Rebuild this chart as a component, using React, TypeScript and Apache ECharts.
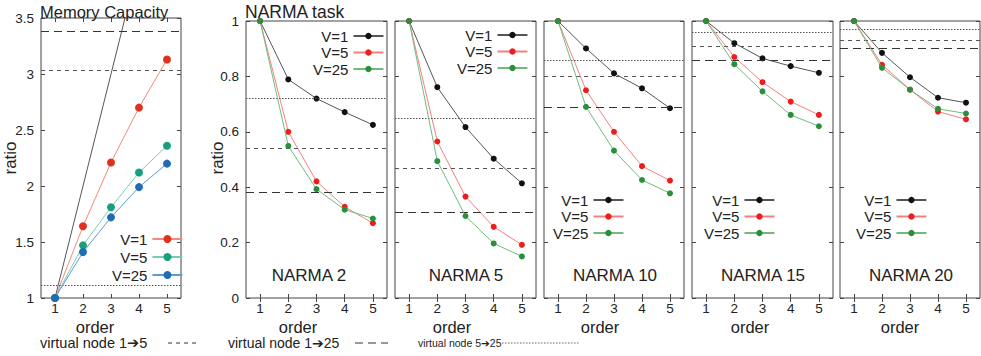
import React, { useEffect, useRef } from 'react';
import * as echarts from 'echarts';

const FONT = '"Liberation Sans", Arial, Helvetica, "DejaVu Sans", sans-serif';

// ---------- data ----------
const orders = ['1', '2', '3', '4', '5'];

// Memory Capacity
const mcV1 = [1, 1.64, 2.21, 2.7, 3.13];
const mcV5 = [1, 1.47, 1.81, 2.12, 2.36];
const mcV25 = [1, 1.41, 1.72, 1.99, 2.2];
const mcIdeal = [1, 2, 3, 4, 5];
const mcRef = { r1to5: 3.03, r1to25: 3.38, r5to25: 1.11 };
const mcTicks = { min: 1, max: 3.5, interval: 0.5 };

// NARMA tasks
const n2V1 = [1, 0.789, 0.72, 0.671, 0.625];
const n2V5 = [1, 0.6, 0.421, 0.329, 0.27];
const n2V25 = [1, 0.549, 0.393, 0.319, 0.287];
const n2Ref = { r1to5: 0.536, r1to25: 0.383, r5to25: 0.717 };

const n5V1 = [1, 0.761, 0.617, 0.503, 0.414];
const n5V5 = [1, 0.565, 0.366, 0.257, 0.192];
const n5V25 = [1, 0.494, 0.296, 0.197, 0.15];
const n5Ref = { r1to5: 0.473, r1to25: 0.309, r5to25: 0.652 };

const n10V1 = [1, 0.901, 0.811, 0.757, 0.685];
const n10V5 = [1, 0.75, 0.6, 0.476, 0.424];
const n10V25 = [1, 0.69, 0.532, 0.426, 0.378];
const n10Ref = { r1to5: 0.795, r1to25: 0.687, r5to25: 0.864 };

const n15V1 = [1, 0.92, 0.865, 0.837, 0.813];
const n15V5 = [1, 0.87, 0.779, 0.709, 0.661];
const n15V25 = [1, 0.844, 0.746, 0.661, 0.62];
const n15Ref = { r1to5: 0.905, r1to25: 0.865, r5to25: 0.956 };

const n20V1 = [1, 0.885, 0.797, 0.723, 0.705];
const n20V5 = [1, 0.842, 0.752, 0.673, 0.645];
const n20V25 = [1, 0.831, 0.752, 0.683, 0.666];
const n20Ref = { r1to5: 0.93, r1to25: 0.901, r5to25: 0.971 };
const narmaTicks = { min: 0, max: 1, interval: 0.2 };

const seriesNames = ['V=1', 'V=5', 'V=25'];
const bottomLegend = ['virtual node 1\u27945', 'virtual node 1\u279425', 'virtual node 5\u279425'];

// ---------- styles ----------
const mcColors = [
  { dot: '#e0301e', line: '#ef8a7c' },
  { dot: '#17a07c', line: '#78ccb2' },
  { dot: '#1f6db3', line: '#5e9bd2' },
];
const nColors = [
  { dot: '#111111', line: '#555555' },
  { dot: '#ee1c1c', line: '#f28080' },
  { dot: '#2a8f3a', line: '#72ba7c' },
];
const DASH_MED = [4, 4];
const DASH_LONG = [8, 5];
const DASH_DOT = [1.5, 1.5];

type Panel = {
  key: string;
  left: number;
  width: number;
  top: number;
  height: number;
  ticks: { min: number; max: number; interval: number };
  showY: boolean;
  values: number[][];
  ref: { r1to5: number; r1to25: number; r5to25: number };
  colors: { dot: string; line: string }[];
  ideal?: number[];
  symbolSize: number;
  legend: { left: number; top: number; textW: number; itemH: number; gap: number };
  label?: { text: string; x: number };
  orderX: number;
};

const panels: Panel[] = [
  {
    key: 'mc', left: 41, width: 140, top: 18, height: 280, ticks: mcTicks, showY: true,
    values: [mcV1, mcV5, mcV25], ref: mcRef, colors: mcColors, ideal: mcIdeal, symbolSize: 8,
    legend: { left: 112, top: 231, textW: 33, itemH: 10, gap: 2 }, orderX: 95,
  },
  {
    key: 'n2', left: 246, width: 141, top: 21, height: 277, ticks: narmaTicks, showY: true,
    values: [n2V1, n2V5, n2V25], ref: n2Ref, colors: nColors, symbolSize: 6,
    legend: { left: 313, top: 28, textW: 33, itemH: 8, gap: 0.5 }, label: { text: 'NARMA 2', x: 309 }, orderX: 298,
  },
  {
    key: 'n5', left: 395, width: 141, top: 21, height: 277, ticks: narmaTicks, showY: false,
    values: [n5V1, n5V5, n5V25], ref: n5Ref, colors: nColors, symbolSize: 6,
    legend: { left: 457, top: 27, textW: 34, itemH: 8, gap: 0.5 }, label: { text: 'NARMA 5', x: 466 }, orderX: 452,
  },
  {
    key: 'n10', left: 544, width: 140, top: 21, height: 277, ticks: narmaTicks, showY: false,
    values: [n10V1, n10V5, n10V25], ref: n10Ref, colors: nColors, symbolSize: 6,
    legend: { left: 553, top: 192, textW: 34, itemH: 8, gap: 0.5 }, label: { text: 'NARMA 10', x: 615 }, orderX: 600,
  },
  {
    key: 'n15', left: 692, width: 141, top: 21, height: 277, ticks: narmaTicks, showY: false,
    values: [n15V1, n15V5, n15V25], ref: n15Ref, colors: nColors, symbolSize: 6,
    legend: { left: 704, top: 192, textW: 33, itemH: 8, gap: 0.5 }, label: { text: 'NARMA 15', x: 763 }, orderX: 750,
  },
  {
    key: 'n20', left: 840, width: 140, top: 21, height: 277, ticks: narmaTicks, showY: false,
    values: [n20V1, n20V5, n20V25], ref: n20Ref, colors: nColors, symbolSize: 6,
    legend: { left: 856, top: 192, textW: 32, itemH: 8, gap: 0.5 }, label: { text: 'NARMA 20', x: 911 }, orderX: 900,
  },
];

const textEl = (text: string, x: number, y: number, size: number, align = 'left', rotation = 0) => ({
  type: 'text',
  x,
  y,
  rotation,
  silent: true,
  style: {
    text,
    fontSize: size,
    fontFamily: FONT,
    fill: '#222',
    align,
    verticalAlign: 'middle',
    textAlign: align,
    textVerticalAlign: 'middle',
  },
});

function buildOption() {
  const grid: any[] = [];
  const xAxis: any[] = [];
  const yAxis: any[] = [];
  const series: any[] = [];
  const legend: any[] = [];
  const graphic: any[] = [];

  const tickStyle = { color: '#444', width: 1 };

  panels.forEach((p, i) => {
    grid.push({
      left: p.left, top: p.top, width: p.width, height: p.height,
      show: true, borderColor: '#444', borderWidth: 1, backgroundColor: 'transparent',
    });
    ['bottom', 'top'].forEach((pos) => {
      xAxis.push({
        type: 'category', gridIndex: i, data: orders, position: pos, boundaryGap: true,
        axisLine: { show: false },
        axisTick: { show: true, inside: true, length: 4, alignWithLabel: true, lineStyle: tickStyle },
        axisLabel: { show: pos === 'bottom', margin: 3, fontSize: 13.5, color: '#222', fontFamily: FONT },
        splitLine: { show: false },
      });
    });
    ['left', 'right'].forEach((pos) => {
      yAxis.push({
        type: 'value', gridIndex: i, position: pos,
        min: p.ticks.min, max: p.ticks.max, interval: p.ticks.interval,
        axisLine: { show: false },
        axisTick: { show: true, inside: true, length: 4, lineStyle: tickStyle },
        axisLabel: { show: pos === 'left' && p.showY, margin: 7, fontSize: 13.5, color: '#222', fontFamily: FONT },
        splitLine: { show: false },
      });
    });

    if (p.ideal) {
      series.push({
        type: 'line', name: 'ideal#' + p.key, xAxisIndex: 2 * i, yAxisIndex: 2 * i,
        data: p.ideal, symbol: 'none', silent: true, z: 1,
        lineStyle: { color: '#555', width: 1 },
      });
    }

    const names: string[] = [];
    p.values.forEach((vals, k) => {
      const name = seriesNames[k] + '#' + p.key;
      names.push(name);
      const s: any = {
        type: 'line', name, xAxisIndex: 2 * i, yAxisIndex: 2 * i, data: vals,
        symbol: 'circle', symbolSize: p.symbolSize, z: 3 + k,
        itemStyle: { color: p.colors[k].dot, borderWidth: 0 },
        lineStyle: { color: p.colors[k].line, width: 1 },
        emphasis: { disabled: true },
      };
      if (k === 0) {
        s.markLine = {
          silent: true, symbol: ['none', 'none'], label: { show: false },
          emphasis: { disabled: true },
          data: [
            { yAxis: p.ref.r5to25, lineStyle: { type: DASH_DOT, color: '#555', width: 1 } },
            { yAxis: p.ref.r1to5, lineStyle: { type: DASH_MED, color: '#555', width: 1 } },
            { yAxis: p.ref.r1to25, lineStyle: { type: DASH_LONG, color: '#333', width: 1 } },
          ],
        };
      }
      series.push(s);
    });

    legend.push({
      show: true, orient: 'vertical', left: p.legend.left, top: p.legend.top,
      align: 'right', itemWidth: 30, itemHeight: p.legend.itemH, itemGap: p.legend.gap,
      padding: 0, selectedMode: false, data: names,
      formatter: (n: string) => n.split('#')[0],
      textStyle: { fontSize: 15, lineHeight: 16, width: p.legend.textW, color: '#222', fontFamily: FONT },
    });

    graphic.push(textEl('order', p.orderX, 326.5, 16.5, 'center'));
    if (p.label) graphic.push(textEl(p.label.text, p.label.x, 275, 17, 'center'));
  });

  graphic.push(textEl('Memory Capacity', 40, 12, 16.5));
  graphic.push(textEl('NARMA task', 245, 12, 17.5));
  graphic.push(textEl('ratio', 10, 158, 17, 'center', Math.PI / 2));
  graphic.push(textEl('ratio', 217, 158, 17, 'center', Math.PI / 2));

  // bottom legend of reference lines
  graphic.push(textEl(bottomLegend[0], 40, 343, 14.5));
  graphic.push({ type: 'line', silent: true, shape: { x1: 168, y1: 343, x2: 200, y2: 343 }, style: { stroke: '#333', lineWidth: 1, lineDash: DASH_MED } });
  graphic.push(textEl(bottomLegend[1], 228, 343, 14));
  graphic.push({ type: 'line', silent: true, shape: { x1: 355, y1: 343, x2: 388, y2: 343 }, style: { stroke: '#333', lineWidth: 1, lineDash: DASH_LONG } });
  graphic.push(textEl(bottomLegend[2], 418, 343, 10.5));
  graphic.push({ type: 'line', silent: true, shape: { x1: 502, y1: 343, x2: 580, y2: 343 }, style: { stroke: '#666', lineWidth: 1, lineDash: DASH_DOT } });

  return {
    animation: false,
    backgroundColor: '#ffffff',
    textStyle: { fontFamily: FONT },
    grid, xAxis, yAxis, series, legend, graphic,
  };
}

export default function App() {
  const ref = useRef<HTMLDivElement>(null);
  useEffect(() => {
    if (!ref.current) return;
    const chart = echarts.init(ref.current, undefined, { renderer: 'svg' });
    chart.setOption(buildOption() as any);
    return () => chart.dispose();
  }, []);
  return (
    <div
      ref={ref}
      style={{ position: 'fixed', left: 0, top: 0, width: 981, height: 356, background: '#fff' }}
    />
  );
}
